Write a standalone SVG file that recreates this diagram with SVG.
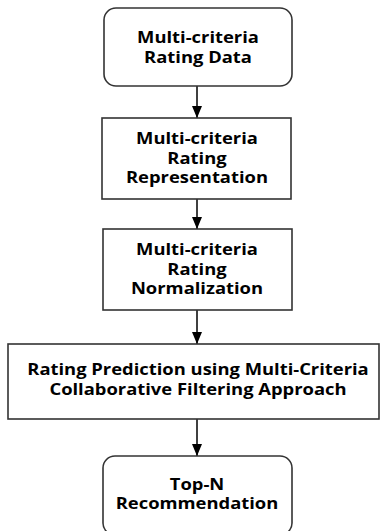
<svg xmlns="http://www.w3.org/2000/svg" width="380" height="531" viewBox="0 0 380 531">
  <defs>
    <marker id="arrow" markerWidth="12" markerHeight="10" refX="12" refY="5" orient="auto" markerUnits="userSpaceOnUse">
      <path d="M0,0 L12,5 L0,10 Z" fill="#000"/>
    </marker>
    <style>
      .box { fill: #fff; stroke: #333; stroke-width: 1.6; }
      .lbl { font-family: "Open Sans", "Noto Sans", "DejaVu Sans", sans-serif; font-weight: bold; font-size: 15.2px; fill: #000; text-anchor: middle; }
      .edge { stroke: #000; stroke-width: 1.5; fill: none; marker-end: url(#arrow); }
    </style>
  </defs>
  <rect width="380" height="531" fill="#fff"/>

  <g id="connectors">
    <line class="edge" x1="197" y1="86" x2="197" y2="118"/>
    <line class="edge" x1="197" y1="199" x2="197" y2="229"/>
    <line class="edge" x1="197" y1="310" x2="197" y2="344"/>
    <line class="edge" x1="197" y1="419" x2="197" y2="456"/>
  </g>

  <!-- labels use a slightly widened face: scale x by 1.21 around each box centre -->
  <g id="rating-data">
    <rect class="box" x="104" y="8" width="188" height="78" rx="12"/>
    <g transform="translate(198 0) scale(1.21 1)">
      <text class="lbl" x="0" y="43">Multi-criteria</text>
      <text class="lbl" x="0" y="63">Rating Data</text>
    </g>
  </g>

  <g id="rating-representation">
    <rect class="box" x="102" y="118" width="189" height="81"/>
    <g transform="translate(197 0) scale(1.21 1)">
      <text class="lbl" x="0" y="144">Multi-criteria</text>
      <text class="lbl" x="0" y="164">Rating</text>
      <text class="lbl" x="0" y="183">Representation</text>
    </g>
  </g>

  <g id="rating-normalization">
    <rect class="box" x="103" y="229" width="189" height="81"/>
    <g transform="translate(197 0) scale(1.21 1)">
      <text class="lbl" x="0" y="255">Multi-criteria</text>
      <text class="lbl" x="0" y="275">Rating</text>
      <text class="lbl" x="0" y="294">Normalization</text>
    </g>
  </g>

  <g id="rating-prediction">
    <rect class="box" x="8" y="344" width="371" height="75"/>
    <g transform="translate(198 0) scale(1.21 1)">
      <text class="lbl" x="0" y="375">Rating Prediction using Multi-Criteria</text>
      <text class="lbl" x="0" y="395">Collaborative Filtering Approach</text>
    </g>
  </g>

  <g id="top-n">
    <rect class="box" x="103" y="456" width="189" height="79" rx="12"/>
    <g transform="translate(197 0) scale(1.21 1)">
      <text class="lbl" x="0" y="490">Top-N</text>
      <text class="lbl" x="0" y="509">Recommendation</text>
    </g>
  </g>
</svg>
